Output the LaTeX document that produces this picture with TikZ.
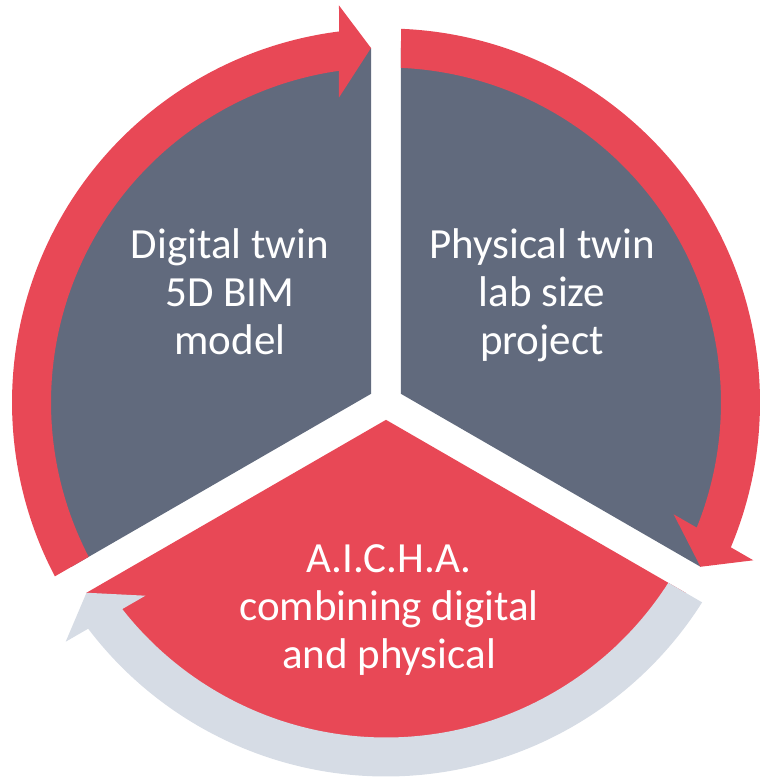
\documentclass[tikz,border=0pt]{standalone}
\usepackage{fontspec}
\setmainfont{Carlito}
\definecolor{slate}{RGB}{97,106,125}
\definecolor{cyclered}{RGB}{232,72,86}
\definecolor{cyclegrey}{RGB}{214,220,229}

\begin{document}
\begin{tikzpicture}[x=1pt,y=1pt,
        slice/.style={fill=slate},
        hotslice/.style={fill=cyclered},
        caption/.style={text=white,align=center,inner sep=0pt,anchor=base,
                        font={\fontsize{43}{47.8}\selectfont}}]
    \useasboundingbox (-386,-376.5) rectangle (376,402.5);

    \fill[slice] (150:17.32) -- ++(90:346) arc[start angle=90,end angle=210,radius=346] -- cycle;
    \fill[slice] (30:17.32) -- ++(-30:346) arc[start angle=-30,end angle=90,radius=346] -- cycle;
    \fill[hotslice] (270:17.32) -- ++(210:346) arc[start angle=210,end angle=330,radius=346] -- cycle;

    \foreach \turn/\shade in {0/cyclered,-120/cyclered,120/cyclegrey}
        \fill[\shade,rotate=\turn] (207.44:335) arc[start angle=207.44,end angle=98.07,radius=335]
            -- (-47,305) -- (-15,354.5) -- (-47,397)
            -- (97.22:374) arc[start angle=97.22,end angle=207.70,radius=374] -- cycle;

    % anchor=base sits on the last line
    \node[caption] (digital) at (-156,48.2) {Digital twin\\5D BIM\\model};
    \node[caption] (physical) at (156,48.2) {Physical twin\\lab size\\project};
    \node[caption] (aicha) at (3,-265.8) {A.I.C.H.A.\\combining digital\\and physical};
\end{tikzpicture}
\end{document}
